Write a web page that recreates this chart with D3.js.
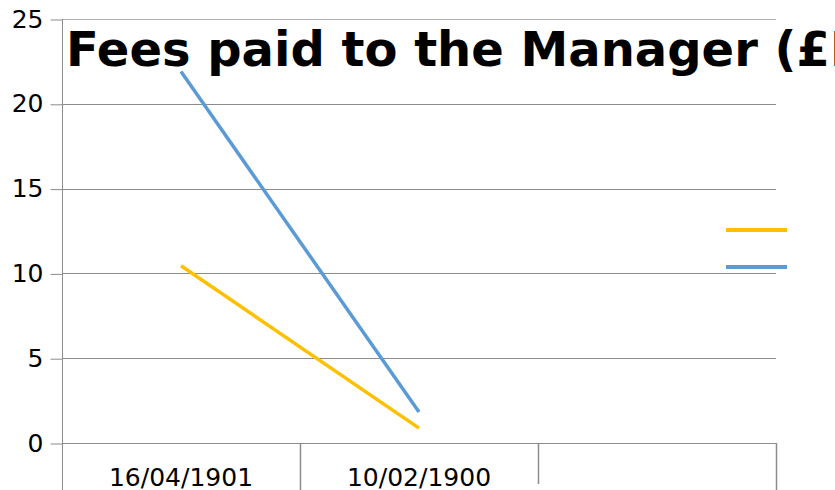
<!DOCTYPE html>
<html>
<head>
<meta charset="utf-8">
<script src="https://cdn.jsdelivr.net/npm/d3@7"></script>
<style>
  html, body { margin: 0; padding: 0; background: #fff; overflow: hidden; }
  #chart { width: 835px; height: 490px; }
  text { font-family: "DejaVu Sans", sans-serif; }
</style>
</head>
<body>
<div id="chart"></div>
<script>
// ------- data -------
const categories = ["16/04/1901", "10/02/1900", ""];
const seriesNames = ["Series 1", "Series 2"];
const seriesA = [10.45, 0.88];   // orange
const seriesB = [21.9, 1.83];    // blue
const yTicks = [0, 5, 10, 15, 20, 25];
const titleText = "Fees paid to the Manager (£M)";

(() => {
  const width = 835, height = 490;
  const plot = { left: 62, right: 776, top: 19, bottom: 443 };
  const colors = ["#FFC000", "#5B9BD5"];

  const svg = d3.select("#chart").append("svg")
    .attr("width", width).attr("height", height)
    .attr("viewBox", `0 0 ${width} ${height}`);

  const x = d3.scaleBand().domain(categories).range([plot.left, plot.right]).padding(0);
  const y = d3.scaleLinear().domain([0, 25]).range([plot.bottom, plot.top]);

  // gridlines
  svg.append("g")
    .selectAll("line")
    .data(yTicks.filter(d => d > 0))
    .enter().append("line")
    .attr("x1", plot.left).attr("x2", plot.right)
    .attr("y1", d => Math.round(y(d)) + 0.5).attr("y2", d => Math.round(y(d)) + 0.5)
    .attr("stroke", d => d === 25 ? "#b3b3b3" : "#8c8c8c")
    .attr("stroke-width", 1);

  // y axis
  const yAxis = d3.axisLeft(y).tickValues(yTicks).tickSize(12).tickPadding(7);
  svg.append("g")
    .attr("transform", `translate(${plot.left + 0.5},0)`)
    .call(yAxis)
    .call(g => g.select(".domain").remove())
    .call(g => g.selectAll("line").attr("stroke", "#8c8c8c").attr("transform", "translate(0,0.5)"))
    .call(g => g.selectAll("text")
      .attr("fill", "#000")
      .style("font-family", "'DejaVu Sans', sans-serif")
      .style("font-size", "25px"));

  // left axis vertical line
  svg.append("line")
    .attr("x1", plot.left + 0.5).attr("x2", plot.left + 0.5)
    .attr("y1", plot.top).attr("y2", height)
    .attr("stroke", "#8c8c8c");

  // x axis
  const xAxis = d3.axisBottom(x).tickSize(0).tickPadding(0);
  svg.append("g")
    .attr("transform", `translate(0,${plot.bottom + 0.5})`)
    .call(xAxis)
    .call(g => g.select(".domain").remove())
    .call(g => g.selectAll("text")
      .attr("fill", "#000")
      .attr("y", 42).attr("dy", 0)
      .style("font-family", "'DejaVu Sans', sans-serif")
      .style("font-size", "25px"));

  svg.append("line")
    .attr("x1", plot.left).attr("x2", plot.right + 1)
    .attr("y1", plot.bottom + 0.5).attr("y2", plot.bottom + 0.5)
    .attr("stroke", "#8c8c8c");

  // category separators
  const seps = categories.map(c => x(c)).concat([plot.right]).slice(1);
  svg.append("g").selectAll("line")
    .data(seps)
    .enter().append("line")
    .attr("x1", d => Math.round(d) + 0.5).attr("x2", d => Math.round(d) + 0.5)
    .attr("y1", plot.bottom).attr("y2", (d, i) => i === 1 ? 484 : height)
    .attr("stroke", "#8c8c8c")
    .attr("stroke-width", 1.5);

  // series lines
  const line = d3.line()
    .x((d, i) => x(categories[i]) + x.bandwidth() / 2)
    .y(d => y(d));

  [seriesA, seriesB].forEach((s, i) => {
    svg.append("path")
      .datum(s)
      .attr("d", line)
      .attr("fill", "none")
      .attr("stroke", colors[i])
      .attr("stroke-width", 3.5);
  });

  // legend (labels fall outside the visible area)
  const legendY = [230, 267];
  seriesNames.forEach((name, i) => {
    svg.append("line")
      .attr("x1", 726).attr("x2", 787)
      .attr("y1", legendY[i]).attr("y2", legendY[i])
      .attr("stroke", colors[i])
      .attr("stroke-width", 4);
  });

  // title
  svg.append("text")
    .attr("x", 66).attr("y", 66)
    .attr("fill", "#000")
    .style("font-family", "'DejaVu Sans', sans-serif")
    .style("font-weight", "bold")
    .style("font-size", "48px")
    .text(titleText);
})();
</script>
</body>
</html>
